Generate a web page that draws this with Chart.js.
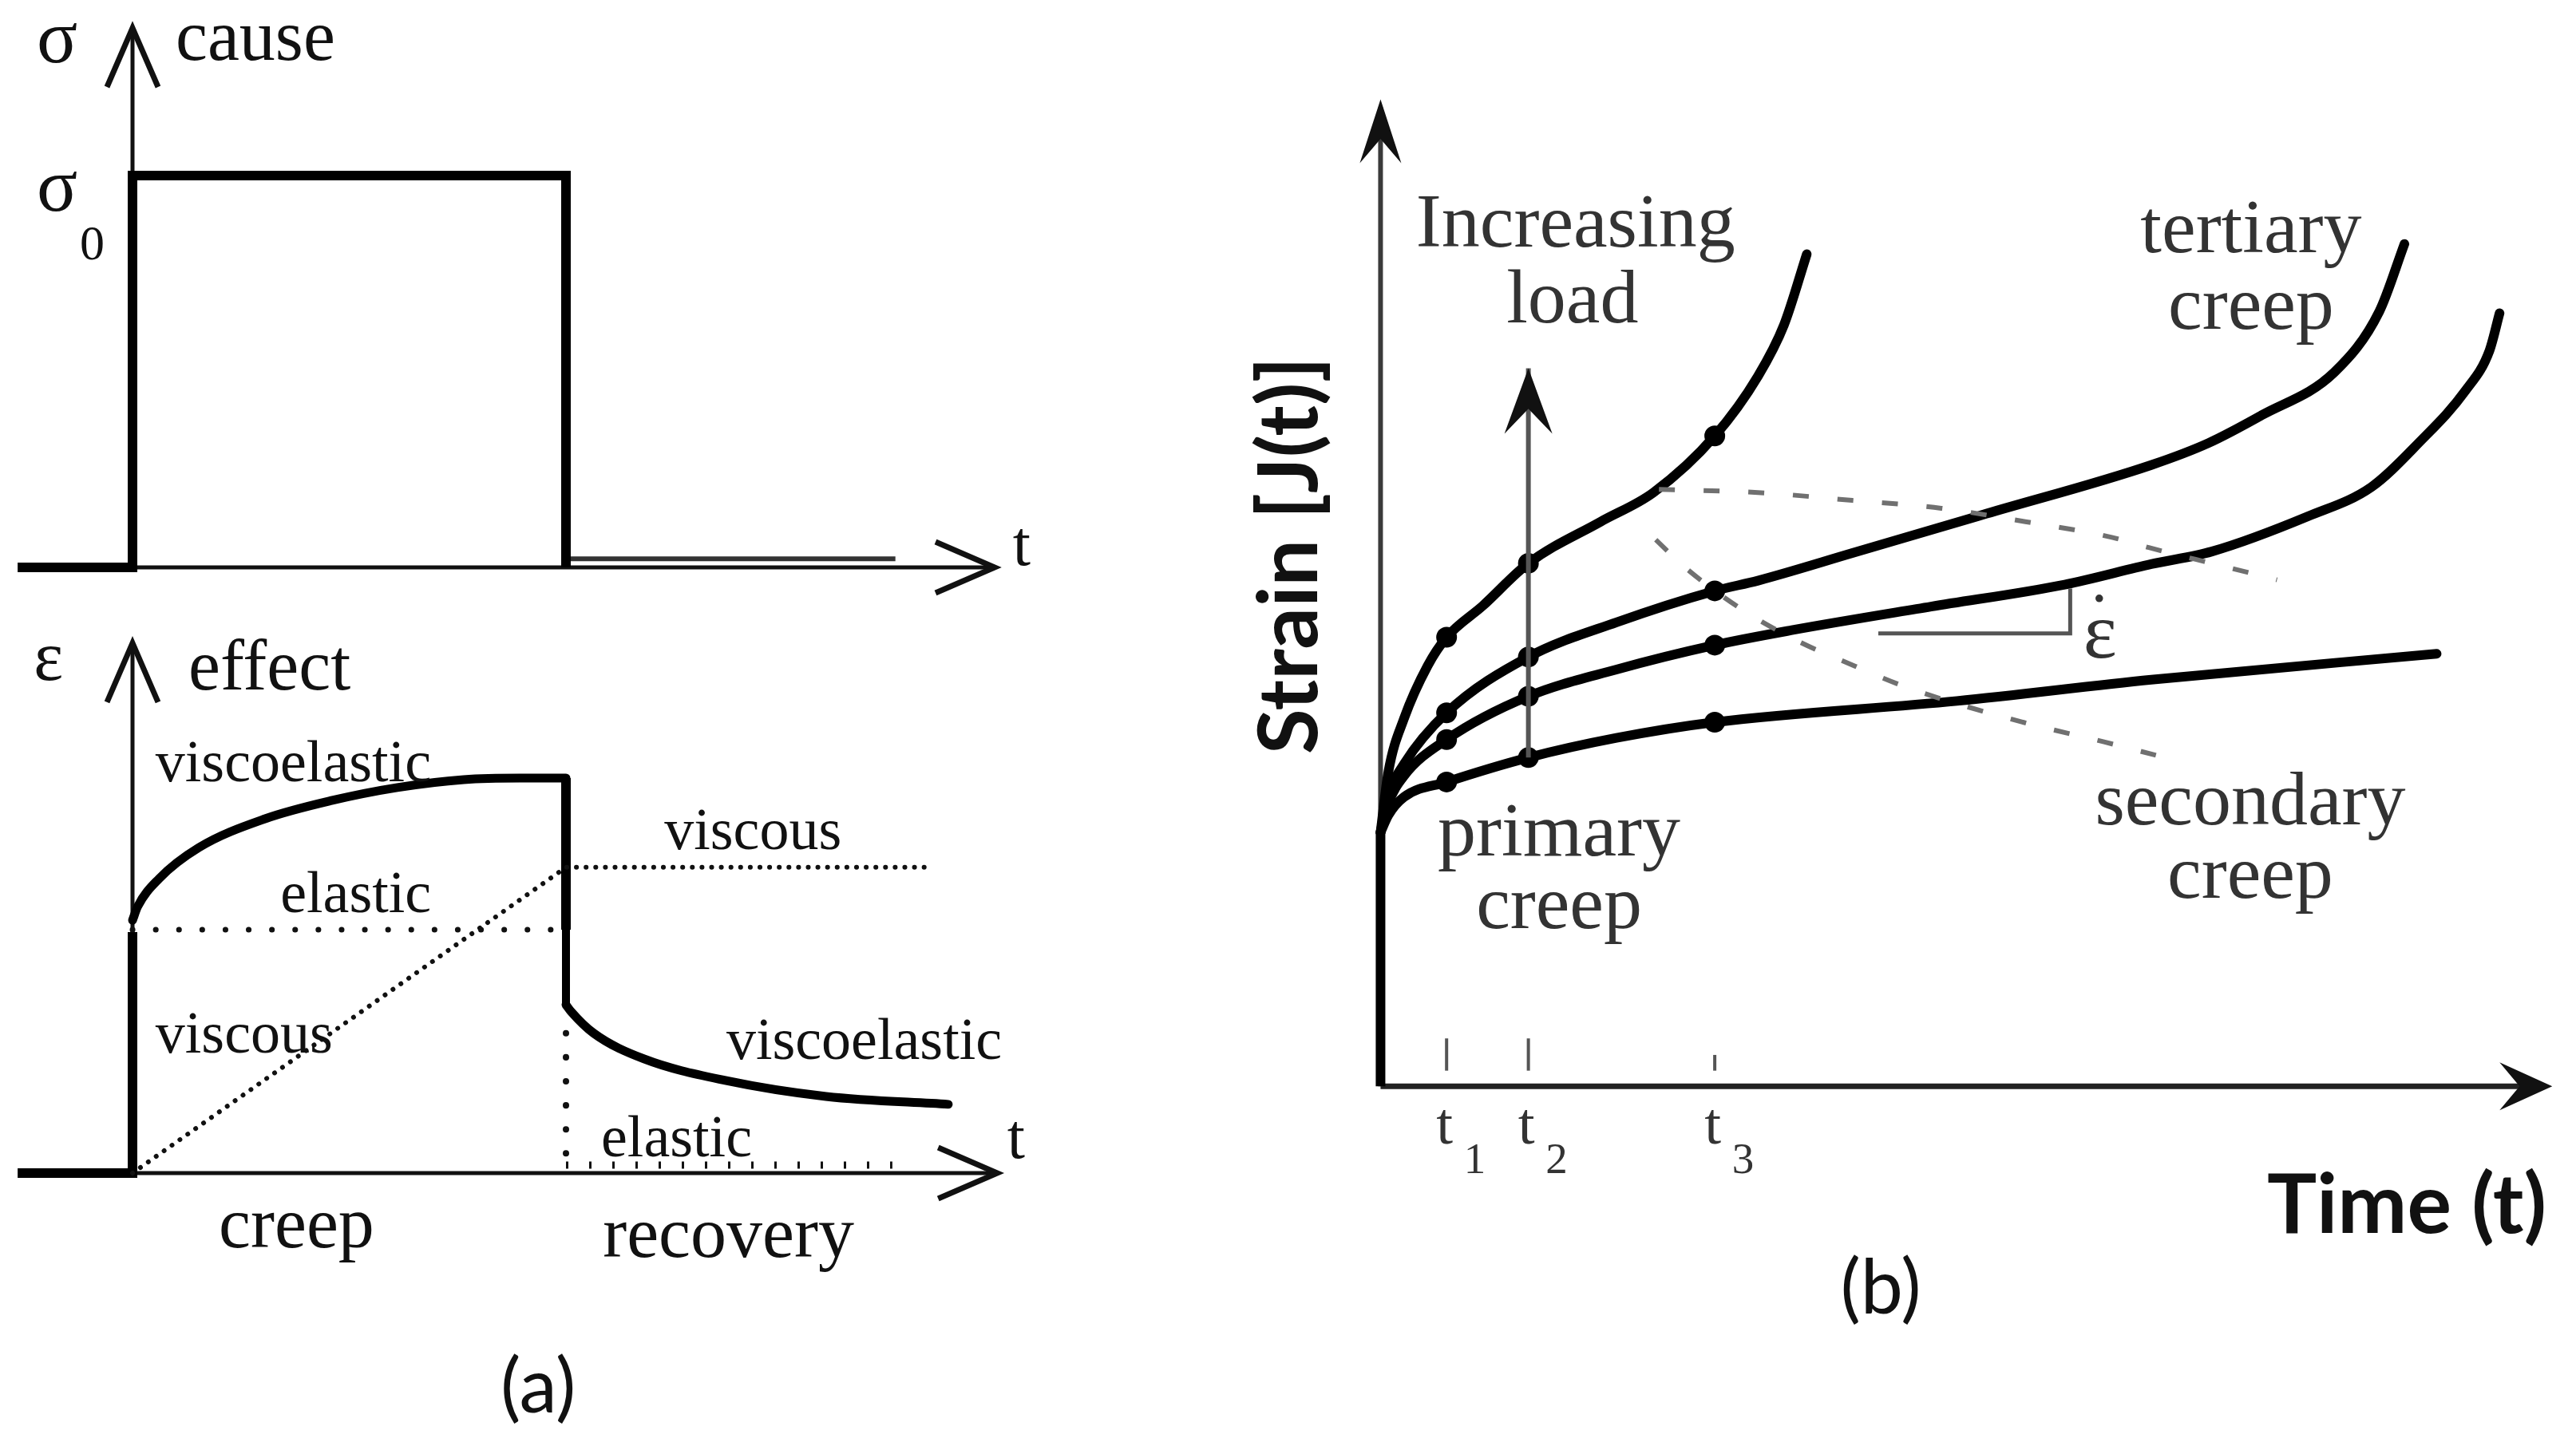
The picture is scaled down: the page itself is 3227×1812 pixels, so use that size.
<!DOCTYPE html>
<html>
<head>
<meta charset="utf-8">
<title>Creep and recovery</title>
<script src="https://cdn.jsdelivr.net/npm/chart.js@4.4.1/dist/chart.umd.min.js"></script>
<style>
  html, body { margin: 0; padding: 0; background: #fff; }
  body { width: 3227px; height: 1812px; position: relative; overflow: hidden; }
  canvas { position: absolute; }
</style>
</head>
<body>
<canvas id="chartCause" width="1320" height="770" style="left:0;top:0"></canvas>
<canvas id="chartEffect" width="1320" height="1042" style="left:0;top:770px"></canvas>
<canvas id="chartCreep" width="1747" height="1812" style="left:1480px;top:0"></canvas>
<script>
// (a) cause: stress step (time in units of loading period, stress in units of sigma0)
const causeTime = [-0.265, 0, 0, 1, 1];
const causeStress = [0, 0, 1, 1, 0];
const restTime = [1.01, 1.76];
const restStress = [0.022, 0.022];

// (a) effect: strain response
const jumpTime = [-0.265, 0, 0];
const jumpStrain = [0, 0, 0.61];
const creepTime = [0, 0.012, 0.061, 0.153, 0.306, 0.459, 0.611, 0.764, 0.893, 1];
const creepStrain = [0.64, 0.675, 0.745, 0.824, 0.897, 0.943, 0.976, 0.996, 1, 1];
const dropTime = [1, 1];
const dropStrain = [1, 0.616];
const hollowStrain = [0.616, 0.426];
const recoveryTime = [1, 1.011, 1.064, 1.18, 1.37, 1.6, 1.882];
const recoveryStrain = [0.426, 0.41, 0.354, 0.289, 0.234, 0.194, 0.174];
const elasticTime = [0, 1];
const elasticStrain = [0.616, 0.616];
const viscousTime = [0, 1, 1.845];
const viscousStrain = [0, 0.774, 0.774];
const releaseStrain = [0.354, 0];
const residualTime = [1, 1.753];
const residualStrain = [0.02, 0.02];

// (b) creep curves at four load levels
const markerTime = [0.84, 1.88, 4.25];
const tickTop = [0.61, 0.61, 0.4];
const tickNames = ['1', '2', '3'];
const instantTime = [0, 0];
const instantStrain = [0, 3.23];
const timeA = [0, 0.1, 0.3, 0.6, 0.84, 1.3, 1.88, 2.8, 3.47, 4.25, 4.8, 5.13, 5.42];
const strainA = [3.23, 4.0, 4.68, 5.35, 5.71, 6.11, 6.65, 7.18, 7.55, 8.27, 9.03, 9.68, 10.58];
const markerA = [5.71, 6.65, 8.27];
const timeB = [0, 0.1, 0.3, 0.84, 1.88, 3.0, 4.25, 4.8, 6.0, 7.7, 9.8, 10.53, 11.2, 12.13, 12.7, 13.02];
const strainB = [3.23, 3.7, 4.1, 4.75, 5.46, 5.9, 6.3, 6.43, 6.78, 7.28, 7.9, 8.18, 8.53, 9.08, 9.85, 10.71];
const markerB = [4.75, 5.46, 6.3];
const timeC = [0, 0.1, 0.3, 0.84, 1.88, 3.0, 4.25, 5.23, 7.0, 8.7, 9.8, 10.57, 11.8, 12.6, 13.2, 13.8, 14.1, 14.23];
const strainC = [3.23, 3.6, 3.95, 4.41, 4.96, 5.3, 5.61, 5.8, 6.1, 6.38, 6.64, 6.8, 7.25, 7.62, 8.18, 8.85, 9.35, 9.83];
const markerC = [4.41, 4.96, 5.61];
const timeD = [0, 0.1, 0.3, 0.84, 1.88, 3.0, 4.25, 7.33, 9.8, 13.43];
const strainD = [3.23, 3.45, 3.68, 3.87, 4.18, 4.43, 4.63, 4.9, 5.17, 5.5];
const markerD = [3.87, 4.18, 4.63];
const tertiaryLineTime = [3.54, 4.8, 6.0, 7.13, 8.2, 9.3, 9.77, 10.73, 11.4];
const tertiaryLineStrain = [7.59, 7.55, 7.45, 7.35, 7.18, 6.98, 6.85, 6.61, 6.44];
const secondaryLineTime = [3.5, 3.87, 4.6, 5.33, 5.83, 6.73, 8.17, 9.2, 9.86];
const secondaryLineStrain = [6.95, 6.6, 6.06, 5.65, 5.43, 5.06, 4.63, 4.38, 4.21];
const loadArrowTime = [1.88, 1.88];
const loadArrowStrain = [4.18, 9.13];
const slopeTime = [6.33, 8.77, 8.77];
const slopeStrain = [5.76, 5.76, 6.33];

const SERIF = '"Liberation Serif", "Times New Roman", serif';
const SANS = 'Lato, "Open Sans", sans-serif';

function series(xs, ys) {
  return xs.map((x, i) => ({ x, y: ys[i] }));
}

function line(xs, ys, style) {
  return Object.assign({
    data: series(xs, ys),
    borderColor: '#000',
    borderWidth: 12,
    pointRadius: 0,
    fill: false,
    tension: 0,
    clip: false
  }, style);
}

function curve(xs, ys, style) {
  return line(xs, ys, Object.assign({ cubicInterpolationMode: 'monotone', borderCapStyle: 'round' }, style));
}

function dotted(xs, ys, gap, width) {
  return line(xs, ys, { borderColor: '#111', borderWidth: width, borderDash: [0.1, gap], borderCapStyle: 'round' });
}

function markers(xs, ys) {
  return {
    data: series(xs, ys),
    showLine: false,
    pointRadius: 13,
    pointBackgroundColor: '#000',
    pointBorderWidth: 0,
    clip: false
  };
}

// canvas position/size in page px, origin and unit lengths in page px
function frame(left, top, w, h, ox, oy, ux, uy) {
  return {
    xMin: (left - ox) / ux, xMax: (left + w - ox) / ux,
    yMin: (oy - top - h) / uy, yMax: (oy - top) / uy
  };
}

function drawHead(ctx, tx, ty, ang, h) {
  ctx.save();
  ctx.translate(tx, ty);
  ctx.rotate(ang);
  ctx.fillStyle = h.color;
  ctx.strokeStyle = h.color;
  ctx.beginPath();
  if (h.style === 'open') {
    ctx.lineWidth = h.width;
    ctx.lineJoin = 'miter';
    ctx.moveTo(-h.len, -h.half);
    ctx.lineTo(-6, 0);
    ctx.lineTo(-h.len, h.half);
    ctx.stroke();
  } else {
    ctx.moveTo(0, 0);
    ctx.lineTo(-h.len, -h.half);
    ctx.lineTo(-h.len * 0.62, 0);
    ctx.lineTo(-h.len, h.half);
    ctx.closePath();
    ctx.fill();
  }
  ctx.restore();
}

const sketchPlugin = {
  id: 'sketch',
  beforeDatasetsDraw(chart, args, opts) {
    const { ctx } = chart;
    const sx = chart.scales.x, sy = chart.scales.y;
    const ax = opts.axes;
    const x0 = sx.getPixelForValue(0), y0 = sy.getPixelForValue(0);
    const xEnd = sx.getPixelForValue(ax.xTo), yEnd = sy.getPixelForValue(ax.yTo);
    ctx.save();
    ctx.lineCap = 'butt';
    ctx.strokeStyle = ax.xColor;
    ctx.lineWidth = ax.xWidth;
    ctx.beginPath();
    ctx.moveTo(x0, y0);
    ctx.lineTo(xEnd - 10, y0);
    ctx.stroke();
    ctx.strokeStyle = ax.yColor;
    ctx.lineWidth = ax.yWidth;
    ctx.beginPath();
    ctx.moveTo(x0, y0);
    ctx.lineTo(x0, yEnd + 10);
    ctx.stroke();
    drawHead(ctx, xEnd, y0, 0, ax.xHead);
    drawHead(ctx, x0, yEnd, -Math.PI / 2, ax.yHead);
    if (opts.ticks) {
      const tk = opts.ticks;
      ctx.strokeStyle = tk.color;
      ctx.lineWidth = tk.width;
      tk.at.forEach((t, i) => {
        const px = sx.getPixelForValue(t);
        ctx.beginPath();
        ctx.moveTo(px, sy.getPixelForValue(tk.from));
        ctx.lineTo(px, sy.getPixelForValue(tk.to[i]));
        ctx.stroke();
      });
    }
    ctx.restore();
  },
  afterDatasetsDraw(chart, args, opts) {
    const { ctx } = chart;
    const sx = chart.scales.x, sy = chart.scales.y;
    chart.data.datasets.forEach((ds, i) => {
      if (!ds.arrowHead) return;
      const pts = chart.getDatasetMeta(i).data;
      const a = pts[pts.length - 2], b = pts[pts.length - 1];
      drawHead(ctx, b.x, b.y, Math.atan2(b.y - a.y, b.x - a.x), ds.arrowHead);
    });
    (opts.notes || []).forEach((n) => {
      ctx.save();
      ctx.font = (n.weight || 'normal') + ' ' + n.size + 'px ' + (n.sans ? SANS : SERIF);
      ctx.fillStyle = n.color || opts.textColor;
      ctx.textAlign = n.align || 'left';
      ctx.textBaseline = n.base || 'alphabetic';
      ctx.translate(sx.getPixelForValue(n.x), sy.getPixelForValue(n.y));
      if (n.rot) ctx.rotate(n.rot);
      ctx.fillText(n.t, 0, 0);
      ctx.restore();
    });
  }
};

function makeChart(id, fr, datasets, sketch) {
  return new Chart(document.getElementById(id), {
    type: 'line',
    data: { datasets },
    options: {
      responsive: false,
      animation: false,
      events: [],
      layout: { padding: 0 },
      scales: {
        x: { type: 'linear', display: false, min: fr.xMin, max: fr.xMax },
        y: { type: 'linear', display: false, min: fr.yMin, max: fr.yMax }
      },
      plugins: { legend: { display: false }, tooltip: { enabled: false }, sketch }
    },
    plugins: [sketchPlugin]
  });
}

const openHead = { style: 'open', len: 80, half: 32, width: 7, color: '#111' };

// (a) top: cause
makeChart('chartCause', frame(0, 0, 1320, 770, 166, 711, 543, 491), [
  line(causeTime, causeStress, { borderWidth: 12, borderJoinStyle: 'miter' }),
  line(restTime, restStress, { borderWidth: 6, borderColor: '#333' })
], {
  textColor: '#111',
  axes: { xTo: 2.0, yTo: 1.389, xWidth: 5, yWidth: 5, xColor: '#111', yColor: '#111', xHead: openHead, yHead: openHead },
  notes: [
    { t: 'σ', x: -0.221, y: 1.289, size: 95 },
    { t: 'cause', x: 0.0994, y: 1.295, size: 90 },
    { t: 'σ', x: -0.221, y: 0.91, size: 95 },
    { t: '0', x: -0.1215, y: 0.786, size: 62 },
    { t: 't', x: 2.031, y: 0.006, size: 80 }
  ]
});

// (a) bottom: effect
makeChart('chartEffect', frame(0, 770, 1320, 1042, 166, 1470, 543, 495), [
  dotted(elasticTime, elasticStrain, 29, 7),
  dotted(viscousTime, viscousStrain, 12, 6),
  dotted(dropTime, releaseStrain, 30, 8),
  line(residualTime, residualStrain, { borderColor: '#111', borderWidth: 9, borderDash: [3, 26] }),
  line(jumpTime, jumpStrain, { borderWidth: 12, borderJoinStyle: 'miter' }),
  curve(creepTime, creepStrain, { borderWidth: 11 }),
  line(dropTime, dropStrain, { borderWidth: 12 }),
  line(dropTime, hollowStrain, { borderWidth: 10 }),
  line(dropTime, hollowStrain, { borderWidth: 3, borderColor: '#fff', borderDash: [8, 6] }),
  curve(recoveryTime, recoveryStrain, { borderWidth: 11 })
], {
  textColor: '#111',
  axes: { xTo: 2.006, yTo: 1.354, xWidth: 5, yWidth: 5, xColor: '#111', yColor: '#111', xHead: openHead, yHead: openHead },
  notes: [
    { t: 'ε', x: -0.228, y: 1.248, size: 88 },
    { t: 'effect', x: 0.129, y: 1.224, size: 90 },
    { t: 'viscoelastic', x: 0.053, y: 0.992, size: 74 },
    { t: 'elastic', x: 0.341, y: 0.661, size: 74 },
    { t: 'viscous', x: 0.053, y: 0.305, size: 74 },
    { t: 'viscous', x: 1.227, y: 0.82, size: 74 },
    { t: 'viscoelastic', x: 1.37, y: 0.289, size: 74 },
    { t: 'elastic', x: 1.081, y: 0.042, size: 74 },
    { t: 't', x: 2.018, y: 0.038, size: 80 },
    { t: 'creep', x: 0.199, y: -0.188, size: 90 },
    { t: 'recovery', x: 1.085, y: -0.212, size: 90 },
    { t: '(a)', x: 0.936, y: -0.545, size: 95, sans: true, align: 'center', base: 'middle' }
  ]
});

// (b) creep stages
const dashedGray = { borderColor: '#707070', borderWidth: 6, borderDash: [20, 36], cubicInterpolationMode: 'monotone' };
makeChart('chartCreep', frame(1480, 0, 1747, 1812, 1720, 1368, 100, 100), [
  line(tertiaryLineTime, tertiaryLineStrain, dashedGray),
  line(secondaryLineTime, secondaryLineStrain, dashedGray),
  line(slopeTime, slopeStrain, { borderColor: '#555', borderWidth: 5 }),
  line(loadArrowTime, loadArrowStrain, { borderColor: '#555', borderWidth: 6,
    arrowHead: { style: 'filled', len: 82, half: 30, color: '#111' } }),
  line(instantTime, instantStrain, { borderWidth: 12 }),
  curve(timeA, strainA),
  curve(timeB, strainB),
  curve(timeC, strainC),
  curve(timeD, strainD),
  markers(markerTime, markerA),
  markers(markerTime, markerB),
  markers(markerTime, markerC),
  markers(markerTime, markerD)
], {
  textColor: '#333',
  axes: {
    xTo: 14.9, yTo: 12.55, xWidth: 7, yWidth: 6, xColor: '#222', yColor: '#3a3a3a',
    xHead: { style: 'filled', len: 66, half: 30, color: '#111' },
    yHead: { style: 'filled', len: 80, half: 26, color: '#111' }
  },
  ticks: { at: markerTime, from: 0.2, to: tickTop, width: 4, color: '#555' },
  notes: [
    { t: 'Increasing', x: 2.48, y: 10.68, size: 96, align: 'center' },
    { t: 'load', x: 2.44, y: 9.71, size: 96, align: 'center' },
    { t: 'tertiary', x: 11.07, y: 10.61, size: 96, align: 'center' },
    { t: 'creep', x: 11.07, y: 9.63, size: 96, align: 'center' },
    { t: 'secondary', x: 11.06, y: 3.33, size: 96, align: 'center' },
    { t: 'creep', x: 11.06, y: 2.4, size: 96, align: 'center' },
    { t: 'primary', x: 2.27, y: 2.94, size: 96, align: 'center' },
    { t: 'creep', x: 2.27, y: 2.01, size: 96, align: 'center' },
    { t: 'ε', x: 9.15, y: 5.45, size: 100, align: 'center' },
    { t: '•', x: 9.14, y: 6.06, size: 40, align: 'center' },
    ...markerTime.map((t) => ({ t: 't', x: t - 0.13, y: -0.73, size: 75 })),
    ...markerTime.map((t, i) => ({ t: tickNames[i], x: t + 0.22, y: -1.1, size: 55 })),
    { t: 'Strain [J(t)]', x: -1.15, y: 6.75, size: 104, sans: true, weight: 'bold', color: '#111',
      align: 'center', base: 'middle', rot: -Math.PI / 2 },
    { t: 'Time (t)', x: 13.05, y: -1.86, size: 104, sans: true, weight: 'bold', color: '#111', align: 'center' },
    { t: '(b)', x: 6.36, y: -2.58, size: 95, sans: true, align: 'center', base: 'middle', color: '#111' }
  ]
});
</script>
</body>
</html>
